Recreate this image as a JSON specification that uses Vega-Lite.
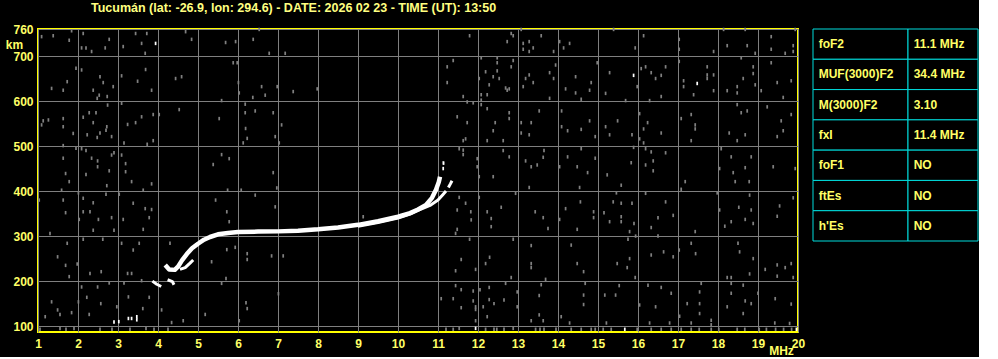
{
  "$schema": "https://vega.github.io/schema/vega-lite/v6.json",
  "background": "black",
  "padding": {"left": 4, "top": 0, "right": 0, "bottom": 0},
  "spacing": 15,
  "bounds": "flush",
  "config": {
    "font": "Liberation Sans",
    "text": {"font": "Liberation Sans"},
    "axis": {"labelOverlap": false, "labelBound": false}
  },
  "datasets": {
    "noise": [
      {"f":1.09,"h":743},{"f":1.38,"h":745},{"f":1.84,"h":756},{"f":1.78,"h":735},{"f":2.13,"h":750},{"f":2.09,"h":718},{"f":2.2,"h":718},{"f":2.34,"h":710},{"f":2.78,"h":737},{"f":2.68,"h":718},{"f":3.13,"h":721},{"f":3.44,"h":750},{"f":3.59,"h":728},{"f":3.72,"h":750},{"f":3.68,"h":706},{"f":4.69,"h":754},{"f":4.84,"h":737},{"f":5.69,"h":730},{"f":5.94,"h":732},{"f":6.38,"h":737},{"f":6.53,"h":759},{"f":6.78,"h":706},{"f":7.18,"h":706},
      {"f":1.95,"h":673},{"f":2.09,"h":669},{"f":1.73,"h":643},{"f":1.34,"h":628},{"f":1.63,"h":624},{"f":2.55,"h":654},{"f":2.63,"h":641},{"f":2.88,"h":632},{"f":2.38,"h":624},{"f":2.53,"h":613},{"f":2.73,"h":610},{"f":2.48,"h":606},{"f":3.09,"h":656},{"f":3.49,"h":644},{"f":3.69,"h":670},{"f":3.84,"h":624},{"f":4.44,"h":650},{"f":4.59,"h":654},{"f":5.88,"h":685},{"f":5.98,"h":685},{"f":6.01,"h":641},{"f":6.03,"h":618},{"f":6.37,"h":608},{"f":6.59,"h":632},{"f":6.68,"h":613},{"f":6.98,"h":632},{"f":5.59,"h":601},{"f":2.74,"h":591},{"f":3.09,"h":595},
      {"f":2.13,"h":564},{"f":2.28,"h":574},{"f":2.45,"h":574},{"f":1.26,"h":558},{"f":1.13,"h":556},{"f":1.09,"h":547},{"f":1.63,"h":561},{"f":1.63,"h":543},{"f":1.88,"h":528},{"f":2.23,"h":525},{"f":2.38,"h":552},{"f":2.55,"h":529},{"f":2.48,"h":519},{"f":2.72,"h":543},{"f":2.7,"h":535},{"f":2.84,"h":521},{"f":3.24,"h":548},{"f":3.44,"h":552},{"f":3.59,"h":565},{"f":3.88,"h":570},{"f":4.03,"h":570},{"f":4.53,"h":581},{"f":5.53,"h":561},{"f":6.18,"h":593},{"f":6.18,"h":574},{"f":6.43,"h":578},{"f":6.88,"h":574},{"f":7.09,"h":547},{"f":6.19,"h":539},{"f":6.23,"h":517},{"f":6.13,"h":507},{"f":6.93,"h":521},{"f":7.03,"h":507},{"f":3.88,"h":512},{"f":3.73,"h":504},{"f":3.15,"h":507},{"f":1.63,"h":501},
      {"f":1.63,"h":473},{"f":1.95,"h":495},{"f":2.09,"h":494},{"f":2.2,"h":490},{"f":2.34,"h":473},{"f":2.49,"h":467},{"f":2.84,"h":480},{"f":2.9,"h":485},{"f":3.09,"h":480},{"f":3.19,"h":461},{"f":3.19,"h":443},{"f":2.78,"h":445},{"f":2.49,"h":454},{"f":2.2,"h":437},{"f":1.69,"h":439},{"f":5.59,"h":481},{"f":5.78,"h":472},{"f":5.38,"h":459},{"f":6.88,"h":441},
      {"f":11.79,"h":745},{"f":12.83,"h":750},{"f":12.88,"h":745},{"f":13.08,"h":759},{"f":13.58,"h":745},{"f":12.73,"h":732},{"f":13.13,"h":728},{"f":13.28,"h":732},{"f":13.38,"h":718},{"f":13.28,"h":710},{"f":13.13,"h":715},{"f":11.38,"h":690},{"f":11.23,"h":676},{"f":12.08,"h":696},{"f":12.48,"h":696},{"f":12.48,"h":685},{"f":12.88,"h":690},{"f":12.83,"h":676},{"f":12.19,"h":665},{"f":12.48,"h":667},{"f":12.38,"h":654},{"f":12.53,"h":650},{"f":12.03,"h":650},{"f":11.23,"h":641},{"f":12.28,"h":636},{"f":12.69,"h":629},{"f":12.73,"h":624},{"f":12.78,"h":627},{"f":13.28,"h":658},{"f":13.19,"h":650},{"f":13.38,"h":641},{"f":13.13,"h":632},{"f":12.08,"h":614},{"f":12.23,"h":614},{"f":11.63,"h":610},{"f":11.73,"h":598},{"f":11.88,"h":596},{"f":12.08,"h":602},{"f":12.08,"h":592},{"f":12.23,"h":583},{"f":11.48,"h":565},{"f":11.73,"h":552},{"f":12.43,"h":552},{"f":12.78,"h":574},{"f":12.78,"h":561},{"f":12.38,"h":534},{"f":13.08,"h":552},{"f":13.33,"h":552},{"f":13.08,"h":529},{"f":13.28,"h":525},{"f":13.53,"h":578},{"f":11.63,"h":512},{"f":11.69,"h":516},{"f":12.23,"h":512},{"f":12.63,"h":512},{"f":11.53,"h":494},{"f":11.63,"h":491},{"f":11.63,"h":481},{"f":12.63,"h":490},{"f":12.78,"h":476},{"f":13.19,"h":467},{"f":13.33,"h":454},{"f":13.48,"h":458},{"f":13.63,"h":475},{"f":13.65,"h":490},{"f":11.98,"h":472},{"f":11.98,"h":454},{"f":12.03,"h":432},{"f":12.38,"h":432},{"f":7.38,"h":621},{"f":7.98,"h":627},{"f":11.13,"h":463},
      {"f":15.39,"h":759},{"f":18.14,"h":759},{"f":18.68,"h":759},{"f":19.93,"h":759},{"f":16.14,"h":745},{"f":14.04,"h":732},{"f":14.29,"h":728},{"f":14.14,"h":718},{"f":13.89,"h":710},{"f":15.93,"h":718},{"f":17.03,"h":737},{"f":17.03,"h":715},{"f":17.89,"h":710},{"f":18.23,"h":723},{"f":18.73,"h":723},{"f":18.93,"h":706},{"f":19.33,"h":743},{"f":19.33,"h":715},{"f":19.68,"h":706},{"f":19.88,"h":723},{"f":19.88,"h":710},{"f":18.58,"h":696},{"f":19.33,"h":685},{"f":13.94,"h":680},{"f":13.79,"h":663},{"f":13.89,"h":650},{"f":14.44,"h":654},{"f":14.19,"h":627},{"f":14.44,"h":618},{"f":14.79,"h":624},{"f":14.83,"h":641},{"f":14.58,"h":604},{"f":13.79,"h":606},{"f":15.29,"h":663},{"f":15.19,"h":617},{"f":14.98,"h":685},{"f":15.98,"h":632},{"f":16.08,"h":672},{"f":16.19,"h":676},{"f":16.33,"h":663},{"f":16.44,"h":650},{"f":16.58,"h":657},{"f":16.69,"h":676},{"f":16.58,"h":610},{"f":16.29,"h":601},{"f":15.69,"h":601},{"f":17.03,"h":688},{"f":17.14,"h":645},{"f":17.14,"h":632},{"f":17.39,"h":614},{"f":17.73,"h":676},{"f":17.73,"h":658},{"f":17.73,"h":650},{"f":17.89,"h":658},{"f":17.89,"h":623},{"f":18.23,"h":623},{"f":18.48,"h":632},{"f":18.48,"h":618},{"f":18.63,"h":650},{"f":18.88,"h":676},{"f":18.88,"h":661},{"f":18.93,"h":636},{"f":19.08,"h":623},{"f":19.48,"h":641},{"f":19.63,"h":608},{"f":19.83,"h":645},
      {"f":14.09,"h":578},{"f":14.79,"h":556},{"f":15.19,"h":543},{"f":14.93,"h":521},{"f":14.58,"h":537},{"f":14.24,"h":534},{"f":14.09,"h":543},{"f":15.49,"h":556},{"f":15.29,"h":525},{"f":15.85,"h":525},{"f":16.04,"h":572},{"f":16.24,"h":552},{"f":16.14,"h":538},{"f":16.58,"h":529},{"f":16.04,"h":516},{"f":16.14,"h":507},{"f":17.08,"h":561},{"f":17.33,"h":570},{"f":17.43,"h":547},{"f":17.43,"h":538},{"f":17.33,"h":512},{"f":18.48,"h":592},{"f":18.73,"h":578},{"f":18.58,"h":574},{"f":19.23,"h":587},{"f":19.58,"h":556},{"f":19.83,"h":570},{"f":19.63,"h":534},{"f":19.48,"h":521},{"f":18.68,"h":525},{"f":18.48,"h":512},{"f":18.28,"h":529},{"f":15.89,"h":497},{"f":16.19,"h":494},{"f":16.33,"h":487},{"f":16.69,"h":485},{"f":16.38,"h":467},{"f":16.19,"h":458},{"f":16.38,"h":445},{"f":15.83,"h":463},{"f":14.93,"h":473},{"f":14.58,"h":494},{"f":14.24,"h":476},{"f":14.04,"h":454},{"f":14.48,"h":454},{"f":14.74,"h":441},{"f":15.23,"h":436},{"f":18.08,"h":494},{"f":18.33,"h":476},{"f":18.83,"h":476},{"f":18.04,"h":450},{"f":18.38,"h":441},{"f":18.68,"h":452},{"f":19.38,"h":454},{"f":19.93,"h":450},
      {"f":1.78,"h":421},{"f":1.59,"h":402},{"f":2.72,"h":412},{"f":3.34,"h":421},{"f":3.84,"h":416},{"f":3.63,"h":402},{"f":2.01,"h":396},{"f":3.03,"h":393},{"f":1.03,"h":380},{"f":1.63,"h":380},{"f":2.13,"h":384},{"f":2.38,"h":374},{"f":2.7,"h":393},{"f":3.38,"h":373},{"f":3.68,"h":361},{"f":3.84,"h":359},{"f":1.69,"h":352},{"f":2.13,"h":354},{"f":2.3,"h":354},{"f":2.03,"h":337},{"f":2.51,"h":337},{"f":2.84,"h":341},{"f":3.13,"h":337},{"f":3.78,"h":341},{"f":2.38,"h":313},{"f":2.9,"h":313},{"f":3.63,"h":315},{"f":1.3,"h":306},{"f":1.73,"h":284},{"f":2.13,"h":293},{"f":2.62,"h":293},{"f":3.09,"h":284},{"f":3.38,"h":269},{"f":3.53,"h":284},{"f":1.49,"h":254},{"f":1.98,"h":238},{"f":1.69,"h":235},{"f":2.58,"h":221},{"f":3.24,"h":217},{"f":3.34,"h":217},{"f":1.78,"h":210},{"f":2.3,"h":217},{"f":2.78,"h":196},{"f":3.15,"h":196},{"f":3.59,"h":201},{"f":2.09,"h":187},{"f":2.49,"h":187},{"f":2.22,"h":164},{"f":2.01,"h":154},{"f":1.34,"h":154},{"f":1.49,"h":136},{"f":1.55,"h":126},{"f":1.18,"h":121},{"f":1.84,"h":130},{"f":2.28,"h":126},{"f":2.57,"h":150},{"f":2.97,"h":143},{"f":3.26,"h":165},{"f":3.62,"h":139},{"f":3.78,"h":164},{"f":4.09,"h":136},{"f":4.34,"h":108},{"f":4.63,"h":112},{"f":5.18,"h":126},{"f":6.03,"h":112},{"f":6.2,"h":152},{"f":6.23,"h":139},{"f":5.7,"h":206},{"f":5.59,"h":195},{"f":7.01,"h":172},{"f":7.13,"h":256},{"f":6.84,"h":256},{"f":6.23,"h":261},{"f":6.23,"h":248},{"f":5.93,"h":275},{"f":5.72,"h":270},{"f":5.34,"h":243},{"f":4.3,"h":284},{"f":6.43,"h":391},{"f":6.93,"h":365},{"f":5.78,"h":332},{"f":5.72,"h":354},{"f":6.08,"h":402},{"f":5.74,"h":402},{"f":6.97,"h":407},{"f":5.44,"h":380},{"f":9.13,"h":343},
      {"f":11.48,"h":358},{"f":11.53,"h":386},{"f":11.69,"h":373},{"f":11.82,"h":354},{"f":11.83,"h":336},{"f":12.03,"h":386},{"f":12.23,"h":354},{"f":12.33,"h":339},{"f":12.33,"h":321},{"f":12.58,"h":364},{"f":11.44,"h":306},{"f":11.79,"h":293},{"f":11.48,"h":315},{"f":12.94,"h":395},{"f":13.28,"h":408},{"f":13.43,"h":354},{"f":13.63,"h":341},{"f":12.88,"h":293},{"f":13.33,"h":279},{"f":13.33,"h":239},{"f":13.33,"h":230},{"f":12.29,"h":253},{"f":12.19,"h":239},{"f":11.94,"h":226},{"f":11.58,"h":248},{"f":11.44,"h":223},{"f":12.83,"h":208},{"f":12.69,"h":195},{"f":13.58,"h":192},{"f":13.69,"h":204},{"f":11.44,"h":190},{"f":11.58,"h":181},{"f":11.88,"h":178},{"f":12.05,"h":181},{"f":12.28,"h":186},{"f":11.88,"h":156},{"f":11.94,"h":143},{"f":12.13,"h":143},{"f":12.4,"h":150},{"f":12.98,"h":176},{"f":12.98,"h":143},{"f":13.53,"h":168},{"f":13.53,"h":125},{"f":13.33,"h":112},{"f":13.63,"h":112},{"f":11.08,"h":161},{"f":11.38,"h":161},{"f":11.58,"h":141},{"f":11.94,"h":137},{"f":12.23,"h":121},{"f":11.94,"h":112},{"f":12.28,"h":159},{"f":12.65,"h":158},
      {"f":14.54,"h":408},{"f":14.19,"h":361},{"f":14.56,"h":376},{"f":14.89,"h":354},{"f":14.89,"h":341},{"f":15.15,"h":352},{"f":15.29,"h":332},{"f":15.38,"h":376},{"f":15.58,"h":373},{"f":15.58,"h":343},{"f":15.58,"h":332},{"f":15.85,"h":373},{"f":15.9,"h":328},{"f":15.79,"h":310},{"f":15.58,"h":413},{"f":15.46,"h":396},{"f":16.19,"h":395},{"f":16.33,"h":319},{"f":16.5,"h":341},{"f":16.69,"h":376},{"f":16.88,"h":346},{"f":17.08,"h":404},{"f":17.18,"h":421},{"f":17.43,"h":310},{"f":17.98,"h":396},{"f":18.04,"h":358},{"f":18.33,"h":332},{"f":18.17,"h":322},{"f":18.52,"h":364},{"f":18.68,"h":337},{"f":18.83,"h":358},{"f":18.88,"h":328},{"f":18.79,"h":391},{"f":19.48,"h":344},{"f":19.54,"h":367},{"f":19.88,"h":385},{"f":18.43,"h":421},{"f":18.78,"h":421},{"f":14.48,"h":315},{"f":14.04,"h":337},{"f":13.75,"h":317},{"f":15.75,"h":293},{"f":15.94,"h":300},{"f":16.5,"h":300},{"f":17.33,"h":284},{"f":17.44,"h":261},{"f":17.03,"h":269},{"f":16.88,"h":254},{"f":16.64,"h":265},{"f":16.33,"h":258},{"f":15.79,"h":250},{"f":15.48,"h":239},{"f":15.73,"h":230},{"f":15.93,"h":208},{"f":14.48,"h":239},{"f":14.64,"h":221},{"f":14.33,"h":280},{"f":18.5,"h":284},{"f":18.54,"h":265},{"f":18.88,"h":250},{"f":19.18,"h":226},{"f":19.48,"h":236},{"f":19.68,"h":230},{"f":19.83,"h":239},{"f":19.88,"h":208},{"f":19.48,"h":211},{"f":18.79,"h":216},{"f":18.23,"h":208},{"f":18.33,"h":208},{"f":17.58,"h":195},{"f":18.33,"h":195},{"f":18.63,"h":191},{"f":18.33,"h":173},{"f":18.68,"h":156},{"f":18.83,"h":150},{"f":18.23,"h":143},{"f":18.63,"h":128},{"f":19.0,"h":173},{"f":19.43,"h":161},{"f":19.83,"h":149},{"f":14.68,"h":195},{"f":14.64,"h":169},{"f":15.17,"h":169},{"f":15.44,"h":169},{"f":15.53,"h":190},{"f":16.04,"h":147},{"f":16.25,"h":191},{"f":16.44,"h":143},{"f":16.58,"h":186},{"f":16.83,"h":173},{"f":17.04,"h":122},{"f":17.23,"h":150},{"f":17.54,"h":176},{"f":17.54,"h":150},{"f":17.54,"h":128},{"f":17.83,"h":113},{"f":17.83,"h":103},{"f":14.08,"h":121},{"f":14.64,"h":148},{"f":14.29,"h":107},{"f":15.21,"h":107},{"f":16.29,"h":107},{"f":16.79,"h":107},{"f":17.33,"h":107},{"f":19.42,"h":107},{"f":19.79,"h":106},
      {"f":1.05,"h":93},{"f":1.55,"h":95},{"f":1.7,"h":93},{"f":1.9,"h":95},{"f":2.55,"h":93},{"f":2.85,"h":93},{"f":3.3,"h":93},{"f":3.7,"h":95},{"f":3.9,"h":93},{"f":4.25,"h":93},{"f":11.2,"h":93},{"f":11.38,"h":93},{"f":11.53,"h":95},{"f":12.19,"h":93},{"f":12.4,"h":93},{"f":12.47,"h":93},{"f":12.65,"h":93},{"f":12.88,"h":95},{"f":13.44,"h":93},{"f":13.55,"h":93},{"f":13.65,"h":93},{"f":13.95,"h":93},{"f":14.33,"h":93},{"f":14.58,"h":93},{"f":14.83,"h":93},{"f":14.93,"h":93},{"f":15.13,"h":93},{"f":15.33,"h":93},{"f":15.98,"h":93},{"f":16.33,"h":93},{"f":16.58,"h":93},{"f":16.83,"h":93},{"f":17.08,"h":93},{"f":17.33,"h":93},{"f":17.53,"h":93},{"f":17.83,"h":93},{"f":18.02,"h":93},{"f":18.48,"h":93},{"f":18.67,"h":93},{"f":19.03,"h":93},{"f":19.21,"h":93},{"f":19.44,"h":93},{"f":19.64,"h":93},{"f":19.84,"h":93}
    ],
    "white": [
      {"f":3.94,"h":728},{"f":15.89,"h":657},{"f":17.48,"h":639},{"f":11.13,"h":450},{"f":11.14,"h":462},{"f":2.9,"h":109},{"f":3.02,"h":110},{"f":3.26,"h":117},{"f":3.34,"h":117},{"f":3.47,"h":121},{"f":3.47,"h":114},{"f":11.94,"h":95},{"f":15.67,"h":93},{"f":19.96,"h":93}
    ],
    "otrace": [
      {"s":"o","f":4.18,"h":236},{"s":"o","f":4.28,"h":226},{"s":"o","f":4.42,"h":225},{"s":"o","f":4.5,"h":232},{"s":"o","f":4.6,"h":246},{"s":"o","f":4.72,"h":260},{"s":"o","f":4.85,"h":273},{"s":"o","f":5.0,"h":283},{"s":"o","f":5.15,"h":292},{"s":"o","f":5.3,"h":298},{"s":"o","f":5.5,"h":304},{"s":"o","f":5.75,"h":307},{"s":"o","f":6.0,"h":309},{"s":"o","f":6.5,"h":310},{"s":"o","f":7.0,"h":310.5},{"s":"o","f":7.5,"h":312},{"s":"o","f":8.0,"h":315},{"s":"o","f":8.5,"h":319},{"s":"o","f":9.0,"h":325},{"s":"o","f":9.5,"h":333},{"s":"o","f":10.0,"h":343},{"s":"o","f":10.3,"h":351},{"s":"o","f":10.5,"h":359},{"s":"o","f":10.7,"h":369},{"s":"o","f":10.85,"h":385},{"s":"o","f":10.95,"h":403},{"s":"o","f":11.02,"h":420},{"s":"o","f":11.05,"h":432}
    ],
    "xtrace": [
      {"s":"x1","f":9.0,"h":322},{"s":"x1","f":9.5,"h":330},{"s":"x1","f":10.0,"h":340},{"s":"x1","f":10.3,"h":349},{"s":"x1","f":10.5,"h":357},{"s":"x1","f":10.8,"h":368},{"s":"x1","f":11.0,"h":380},{"s":"x1","f":11.12,"h":392},{"s":"x1","f":11.2,"h":400},
      {"s":"x2","f":11.26,"h":408},{"s":"x2","f":11.31,"h":416},{"s":"x2","f":11.35,"h":423},
      {"s":"x3","f":4.55,"h":226},{"s":"x3","f":4.68,"h":230},{"s":"x3","f":4.8,"h":240},{"s":"x3","f":4.88,"h":247},
      {"s":"e1","f":3.86,"h":200},{"s":"e1","f":3.97,"h":193},{"s":"e1","f":4.08,"h":188},
      {"s":"e2","f":4.24,"h":203},{"s":"e2","f":4.36,"h":199},{"s":"e2","f":4.4,"h":192}
    ],
    "tbl": [
      {"k":"foF2","v":"11.1 MHz"},
      {"k":"MUF(3000)F2","v":"34.4 MHz"},
      {"k":"M(3000)F2","v":"3.10"},
      {"k":"fxI","v":"11.4 MHz"},
      {"k":"foF1","v":"NO"},
      {"k":"ftEs","v":"NO"},
      {"k":"h'Es","v":"NO"}
    ]
  },
  "hconcat": [
    {
      "width": 760,
      "height": 303,
      "view": {"stroke": "#ffff00", "strokeWidth": 2},
      "title": {
        "text": "Tucumán (lat: -26.9, lon: 294.6) - DATE: 2026 02 23 - TIME (UT): 13:50",
        "anchor": "start",
        "frame": "group",
        "dx": 53,
        "offset": -1,
        "baseline": "alphabetic",
        "font": "Liberation Sans",
        "fontSize": 12.5,
        "fontWeight": "bold",
        "color": "#ffff80"
      },
      "encoding": {
        "x": {
          "field": "f", "type": "quantitative",
          "scale": {"domain": [1, 20], "nice": false, "zero": false},
          "axis": {
            "values": [1,2,3,4,5,6,7,8,9,10,11,12,13,14,15,16,17,18,19,20],
            "labelExpr": "datum.value",
            "domain": false, "ticks": false,
            "grid": true, "gridColor": "#7f7f7f", "gridWidth": 1, "gridOpacity": 1,
            "labelColor": "#ffff66", "labelFont": "Liberation Sans", "labelFontSize": 12, "labelFontWeight": "bold",
            "labelPadding": 6, "labelFlush": false, "labelOverlap": false, "labelSeparation": 0,
            "title": "MHz", "titleX": 743, "titleY": 18, "titleAlign": "center", "titleBaseline": "middle",
            "titleColor": "#ffff66", "titleFont": "Liberation Sans", "titleFontSize": 12, "titleFontWeight": "bold"
          }
        },
        "y": {
          "field": "h", "type": "quantitative",
          "scale": {"domain": [87, 760], "nice": false, "zero": false},
          "axis": {
            "values": [100,200,300,400,500,600,700,760],
            "domain": false, "ticks": false,
            "grid": true, "gridColor": "#7f7f7f", "gridWidth": 1, "gridOpacity": 1,
            "labelColor": "#ffff66", "labelFont": "Liberation Sans", "labelFontSize": 12, "labelFontWeight": "bold",
            "labelPadding": 5, "labelFlush": false, "labelOverlap": false,
            "title": "km", "titleAngle": 0, "titleX": -24, "titleY": 15, "titleAlign": "center", "titleBaseline": "middle",
            "titleColor": "#ffff66", "titleFont": "Liberation Sans", "titleFontSize": 12, "titleFontWeight": "bold"
          }
        }
      },
      "layer": [
        {
          "data": {"name": "noise"},
          "mark": {"type": "point", "filled": true, "shape": "M-0.5,-1H0.5V1H-0.5Z", "size": 12, "color": "#808080", "opacity": 1}
        },
        {
          "data": {"name": "white"},
          "mark": {"type": "point", "filled": true, "shape": "M-0.5,-1H0.5V1H-0.5Z", "size": 12, "color": "#ffffff", "opacity": 1}
        },
        {
          "data": {"name": "otrace"},
          "mark": {"type": "line", "color": "#ffffff", "strokeWidth": 4.5, "strokeCap": "butt", "strokeJoin": "round"},
          "encoding": {"detail": {"field": "s"}}
        },
        {
          "data": {"name": "xtrace"},
          "mark": {"type": "line", "color": "#ffffff", "strokeWidth": 3, "strokeCap": "butt", "strokeJoin": "round"},
          "encoding": {"detail": {"field": "s"}}
        }
      ]
    },
    {
      "spacing": 0,
      "bounds": "flush",
      "hconcat": [
        {
          "width": 95,
          "height": 212,
          "data": {"name": "tbl"},
          "view": {"stroke": null},
          "encoding": {
            "y": {"field": "k", "type": "nominal", "sort": null, "axis": null, "scale": {"paddingInner": 0, "paddingOuter": 0}}
          },
          "layer": [
            {"mark": {"type": "rect", "fill": "black", "stroke": "#00dcdc", "strokeWidth": 1}},
            {"mark": {"type": "text", "align": "left", "dx": -41.8, "font": "Liberation Sans", "fontSize": 12, "fontWeight": "bold", "color": "#ffff66"},
             "encoding": {"text": {"field": "k"}}}
          ]
        },
        {
          "width": 70,
          "height": 212,
          "data": {"name": "tbl"},
          "view": {"stroke": null},
          "encoding": {
            "y": {"field": "k", "type": "nominal", "sort": null, "axis": null, "scale": {"paddingInner": 0, "paddingOuter": 0}}
          },
          "layer": [
            {"mark": {"type": "rect", "fill": "black", "stroke": "#00dcdc", "strokeWidth": 1}},
            {"mark": {"type": "text", "align": "left", "dx": -29.3, "font": "Liberation Sans", "fontSize": 12, "fontWeight": "bold", "color": "#ffff66"},
             "encoding": {"text": {"field": "v"}}}
          ]
        }
      ]
    }
  ]
}
